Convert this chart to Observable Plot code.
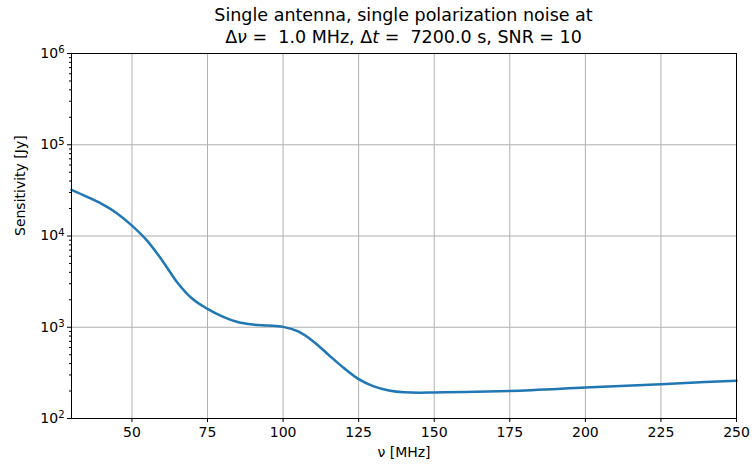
<!DOCTYPE html>
<html>
<head>
<meta charset="utf-8">
<script src="https://cdn.jsdelivr.net/npm/d3@7"></script>
<script src="https://cdn.jsdelivr.net/npm/@observablehq/plot@0.6"></script>
<style>
  body { margin: 0; background: #fff; font-family: "DejaVu Sans", sans-serif; }
  #title { width: 754px; height: 45px; position: relative; }
  #title div { position: absolute; left: 71px; width: 665px; text-align: center; font-size: 17.5px; color: #000; white-space: nowrap; }
</style>
</head>
<body>
<div id="title">
  <div style="top:5px">Single antenna, single polarization noise at</div>
  <div style="top:27px">Δ<i>ν</i> =&nbsp; 1.0 MHz, Δ<i>t</i> =&nbsp; 7200.0 s, SNR = 10</div>
</div>
<div id="chart"></div>
<script>
const freqs = [30, 35, 40, 45, 50, 55, 60, 65, 70, 75, 80, 85, 90, 95, 100, 105, 110, 115, 120, 125, 130, 135, 140, 145, 150, 160, 175, 200, 225, 250];
const sensitivity = [32000, 27000, 22500, 17800, 13000, 8900, 5400, 3100, 2050, 1590, 1310, 1140, 1070, 1045, 1010, 900, 700, 500, 360, 270, 225, 203, 194, 192, 193, 195, 200, 218, 238, 260];
const xTicks = [50, 75, 100, 125, 150, 175, 200, 225, 250];
const yTicks = [1e2, 1e3, 1e4, 1e5, 1e6];
const xLabel = "ν [MHz]";
const yLabel = "Sensitivity [Jy]";

const data = freqs.map((f, i) => ({f, s: sensitivity[i]}));
const minor = [];
for (let e = 2; e < 6; e++) for (let k = 2; k <= 9; k++) minor.push(k * 10 ** e);

const chart = Plot.plot({
  width: 754,
  height: 422,
  marginTop: 8,
  marginBottom: 49,
  marginLeft: 71,
  marginRight: 18,
  style: {fontFamily: "DejaVu Sans, sans-serif", fontSize: "14px", color: "#000", background: "#fff"},
  x: {domain: [30, 250]},
  y: {type: "log", domain: [1e2, 1e6]},
  marks: [
    Plot.gridX(xTicks.slice(0, -1), {stroke: "#b0b0b0", strokeOpacity: 1, strokeWidth: 1}),
    Plot.gridY(yTicks.slice(1, -1), {stroke: "#b0b0b0", strokeOpacity: 1, strokeWidth: 1}),
    Plot.axisX(xTicks, {tickSize: 4, tickPadding: 5, fontSize: 14, label: null}),
    Plot.axisY(yTicks, {tickSize: 4, tickPadding: 3, fontSize: 14, label: null,
      tickFormat: d => "10^" + Math.round(Math.log10(d))}),
    Plot.axisY(minor, {tickSize: 2, text: null, label: null}),
    Plot.line(data, {x: "f", y: "s", stroke: "#1f77b4", strokeWidth: 2.5, curve: "monotone-x"}),
    Plot.frame({stroke: "#000", strokeWidth: 1}),
    Plot.text([xLabel], {frameAnchor: "bottom", dy: 38, fontSize: 14, text: d => d}),
    Plot.text([yLabel], {frameAnchor: "left", dx: -51, rotate: -90, fontSize: 14, text: d => d})
  ]
});
d3.select(chart).selectAll("text").each(function() {
  const t = this.textContent;
  const m = /^10\^(\d+)$/.exec(t);
  if (m) {
    const sel = d3.select(this);
    sel.text("10");
    sel.append("tspan").attr("dy", "-0.45em").attr("font-size", "10px").text(m[1]);
  }
});
document.getElementById("chart").appendChild(chart);
</script>
</body>
</html>
